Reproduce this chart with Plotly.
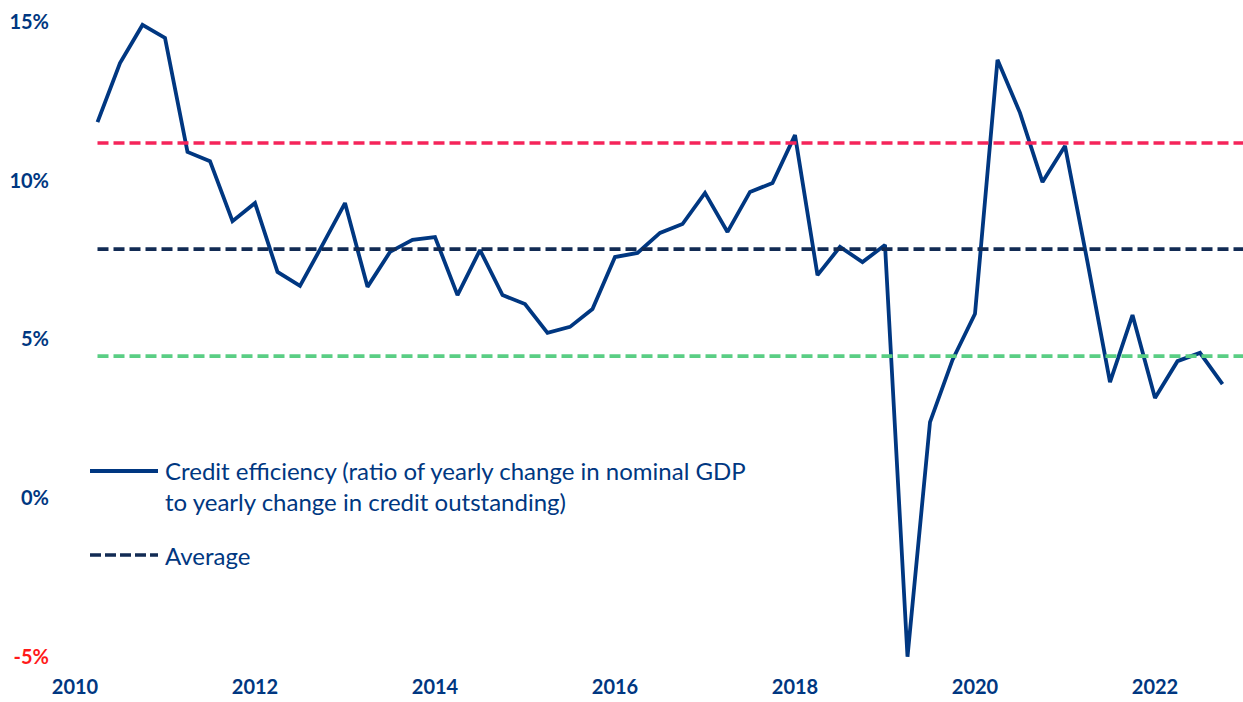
import plotly.graph_objects as go

# Quarterly observations, starting 2010 Q2
start_year = 2010
start_quarter = 2
credit_efficiency = [
    11.84, 13.70, 14.90, 14.49, 10.90, 10.61, 8.72, 9.29, 7.12, 6.68,
    7.97, 9.29, 6.65, 7.75, 8.13, 8.22, 6.39, 7.81, 6.39, 6.11,
    5.20, 5.39, 5.95, 7.59, 7.72, 8.35, 8.63, 9.61, 8.38, 9.64,
    9.92, 11.43, 7.02, 7.91, 7.43, 7.97, -5.00, 2.39, 4.35, 5.80,
    13.80, 12.13, 9.95, 11.09, 7.43, 3.65, 5.76, 3.15, 4.31, 4.57,
    3.59,
]
average_level = 7.84
upper_level = 11.18
lower_level = 4.47

x_tick_vals = [2010, 2012, 2014, 2016, 2018, 2020, 2022]
x_tick_text = ["2010", "2012", "2014", "2016", "2018", "2020", "2022"]
y_tick_vals = [15, 10, 5, 0, -5]
y_tick_text = ["15%", "10%", "5%", "0%", '<span style="color:#FF1A1A">-5%</span>']

legend_main = ["Credit efficiency (ratio of yearly change in nominal GDP",
               "to yearly change in credit outstanding)"]
legend_avg = "Average"

# quarter positions as fractional years
x_vals = []
for i in range(len(credit_efficiency)):
    q = start_quarter - 1 + i
    x_vals.append(start_year + q / 4)

BLUE = "#003781"
NAVY = "#122B54"
RED = "#F5245A"
GREEN = "#5ACE84"
FONT = "Lato"

W, H = 1243, 702
ML, MR, MT, MB = 60, 0, 10, 32
X_RANGE = [2010 - 15 / 90, 2010 + (W - 75) / 90]
PX_PER_PCT = 31.75
Y_RANGE = [(498 - (H - MB)) / PX_PER_PCT, (498 - MT) / PX_PER_PCT]

fig = go.Figure()
fig.add_trace(go.Scatter(
    x=x_vals, y=credit_efficiency, mode="lines",
    line=dict(color=BLUE, width=3.8),
    name=" ".join(legend_main), showlegend=False,
))

x_end = X_RANGE[1]
for level, color in [(upper_level, RED), (average_level, NAVY), (lower_level, GREEN)]:
    fig.add_trace(go.Scatter(
        x=[x_vals[0], x_end], y=[level, level], mode="lines",
        line=dict(color=color, width=3.6, dash="11px,5px"),
        showlegend=False, hoverinfo="skip",
    ))


def px_to_paper_x(px):
    return (px - ML) / (W - ML - MR)


def px_to_paper_y(py):
    return (H - MB - py) / (H - MT - MB)


shapes = [
    dict(type="line", xref="paper", yref="paper",
         x0=px_to_paper_x(90), x1=px_to_paper_x(158),
         y0=px_to_paper_y(471), y1=px_to_paper_y(471),
         line=dict(color=BLUE, width=3.8)),
    dict(type="line", xref="paper", yref="paper",
         x0=px_to_paper_x(90), x1=px_to_paper_x(158),
         y0=px_to_paper_y(555), y1=px_to_paper_y(555),
         line=dict(color=NAVY, width=3.6, dash="11px,4px")),
]
annotations = []
for text, py in [(legend_main[0], 470), (legend_main[1], 501), (legend_avg, 555)]:
    annotations.append(dict(
        xref="paper", yref="paper", x=px_to_paper_x(163), y=px_to_paper_y(py),
        xanchor="left", yanchor="middle", text=text, showarrow=False,
        font=dict(family=FONT, size=24, color=BLUE),
    ))

fig.update_layout(
    width=W, height=H,
    margin=dict(l=ML, r=MR, t=MT, b=MB),
    paper_bgcolor="white", plot_bgcolor="white",
    shapes=shapes, annotations=annotations,
    font=dict(family=FONT, color=BLUE),
    xaxis=dict(range=X_RANGE, tickvals=x_tick_vals, ticktext=x_tick_text,
               showgrid=False, zeroline=False, showline=False, ticks="",
               tickfont=dict(family=FONT, size=20, color=BLUE, weight="bold"),
               ticklabelstandoff=3),
    yaxis=dict(range=Y_RANGE, tickvals=y_tick_vals, ticktext=y_tick_text,
               showgrid=False, zeroline=False, showline=False, ticks="",
               tickfont=dict(family=FONT, size=20, color=BLUE, weight="bold"),
               ticklabelstandoff=10),
)

fig.write_html("out.html")
